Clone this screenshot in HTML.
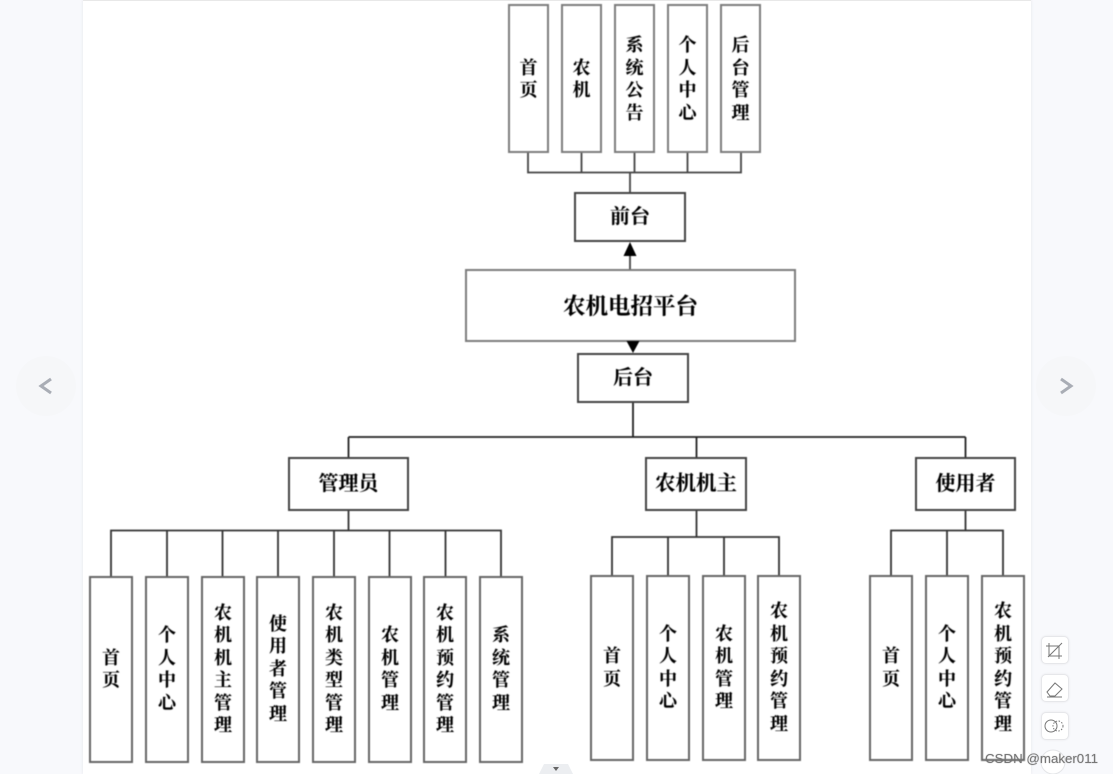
<!DOCTYPE html>
<html lang="zh">
<head>
<meta charset="utf-8">
<title>农机电招平台</title>
<style>
html,body{margin:0;padding:0;width:1113px;height:774px;overflow:hidden;background:#f8f9fc}
#sheet{position:absolute;left:83px;top:0;width:948px;height:774px;background:#fff;box-shadow:0 0 3px #e4e5ea}
#top{position:absolute;left:83px;top:0;width:948px;height:1px;background:#e8e8e8}
#d{position:absolute;left:0;top:0;width:1113px;height:774px;filter:blur(.4px)}
.b{position:absolute;box-sizing:border-box;border:2px solid #444;display:flex;align-items:center;justify-content:center;font-family:"Liberation Serif","Noto Serif CJK SC",serif;font-weight:700;color:#000;background:#fff;text-shadow:0 0 1px rgba(0,0,0,.35)}
.g{border-color:#7c7c7c}
.m{border-color:#666}
.v{font-size:18px;line-height:22.5px;padding-bottom:1px}
.t{padding-bottom:0;padding-top:1px}
.v span{display:block;width:18px;text-align:center;word-break:break-all}
.h{font-size:20px;white-space:nowrap;padding-bottom:6px}
.circ{position:absolute;width:60px;height:60px;border-radius:50%;background:#f6f7f9;top:356px}
.tool{position:absolute;left:1041px;width:28px;height:28px;box-sizing:border-box;border:1px solid #e6e7ea;border-radius:5px;background:#fff;box-shadow:0 0 2px #e8e8ec}
#wm{position:absolute;left:985px;top:751px;font:13.3px/16px "Liberation Sans",sans-serif;color:#777;white-space:nowrap;text-shadow:0 0 1px rgba(80,80,80,.5)}
svg{position:absolute;left:0;top:0}
</style>
</head>
<body>
<div id="sheet"></div>
<div id="top"></div>

<div class="circ" style="left:16px"></div>
<div class="circ" style="left:1036px"></div>
<svg width="1113" height="774" style="z-index:1">
<path d="M51 379l-10 7 10 7" fill="none" stroke="#a9adb5" stroke-width="3"/>
<path d="M1061 379l10 7-10 7" fill="none" stroke="#a9adb5" stroke-width="3"/>
</svg>

<div id="d">
<svg width="1113" height="774">
<g fill="none" stroke="#444" stroke-width="1.8">
<path d="M528 152V172.500H741V152M581.500 152V172.500M634.500 152V172.500M687.500 152V172.500M630 172.500V192"/>
<path d="M630 269V254"/>
<path d="M633 402V437M348.500 437H965.500M348.500 437V457M696.500 437V457M965.500 437V457" stroke="#222"/>
<path d="M348.500 510V530M111 576V530.500H501V576M167 530V576M222.500 530V576M278 530V576M334 530V576M389.500 530V576M445.500 530V576" stroke="#333"/>
<path d="M696.500 510V537M612 575V537H779V575M668 537V575M724 537V575" stroke="#333"/>
<path d="M965.500 510V530.500M891 575V530.500H1003V575M947 530V575" stroke="#333"/>
</g>
</svg>

<div class="b g v t" style="left:508px;top:4px;width:41px;height:149px"><span>首页</span></div>
<div class="b g v t" style="left:561px;top:4px;width:41px;height:149px"><span>农机</span></div>
<div class="b g v t" style="left:614px;top:4px;width:41px;height:149px"><span>系统公告</span></div>
<div class="b g v t" style="left:667px;top:4px;width:41px;height:149px"><span>个人中心</span></div>
<div class="b g v t" style="left:720px;top:4px;width:41px;height:149px"><span>后台管理</span></div>

<div class="b h" style="left:574px;top:192px;width:112px;height:50px">前台</div>
<div class="b g h" style="left:465px;top:269px;width:331px;height:73px;font-size:22.5px;padding-bottom:2px">农机电招平台</div>
<div class="b h" style="left:577px;top:353px;width:112px;height:50px">后台</div>

<div class="b h" style="left:288px;top:457px;width:121px;height:54px">管理员</div>
<div class="b h" style="left:645px;top:457px;width:102px;height:54px;font-size:20.5px">农机机主</div>
<div class="b h" style="left:915px;top:457px;width:101px;height:54px">使用者</div>

<div class="b m v" style="left:89px;top:576px;width:44px;height:187px"><span>首页</span></div>
<div class="b m v" style="left:145px;top:576px;width:44px;height:187px"><span>个人中心</span></div>
<div class="b m v" style="left:201px;top:576px;width:44px;height:187px"><span>农机机主管理</span></div>
<div class="b m v" style="left:256px;top:576px;width:44px;height:187px"><span>使用者管理</span></div>
<div class="b m v" style="left:312px;top:576px;width:44px;height:187px"><span>农机类型管理</span></div>
<div class="b m v" style="left:368px;top:576px;width:44px;height:187px"><span>农机管理</span></div>
<div class="b m v" style="left:423px;top:576px;width:44px;height:187px"><span>农机预约管理</span></div>
<div class="b m v" style="left:479px;top:576px;width:44px;height:187px"><span>系统管理</span></div>

<div class="b m v" style="left:590px;top:575px;width:44px;height:186px"><span>首页</span></div>
<div class="b m v" style="left:646px;top:575px;width:44px;height:186px"><span>个人中心</span></div>
<div class="b m v" style="left:702px;top:575px;width:44px;height:186px"><span>农机管理</span></div>
<div class="b m v" style="left:757px;top:575px;width:44px;height:186px"><span>农机预约管理</span></div>

<div class="b m v" style="left:869px;top:575px;width:44px;height:186px"><span>首页</span></div>
<div class="b m v" style="left:925px;top:575px;width:44px;height:186px"><span>个人中心</span></div>
<div class="b m v" style="left:981px;top:575px;width:44px;height:186px"><span>农机预约管理</span></div>

<svg width="1113" height="774">
<polygon points="630,242 623.500,256 636.500,256" fill="#000"/>
<polygon points="633,353 626.500,341 639.500,341" fill="#000"/>
</svg>
</div>

<div class="tool" style="top:636px"></div>
<div class="tool" style="top:674px"></div>
<div class="tool" style="top:712px"></div>
<svg width="1113" height="774" style="z-index:2">
<path d="M539 774l5-10h24l5 10z" fill="#eceef1"/>
<path d="M553 767h6l-3 4z" fill="#666"/>
<circle cx="1053" cy="762" r="12" fill="#fff" stroke="#e4e5e8"/>
<g fill="none" stroke="#777" stroke-width="1">
<path d="M1049 643v13h13M1046 646h13v13M1048 657l14-14"/>
<path d="M1047 692l8-9 7 6-7 7h-5zM1047 697h15"/>
<circle cx="1051" cy="726" r="6"/>
<circle cx="1058" cy="726" r="5" stroke-dasharray="1.500 1.500"/>
</g>
</svg>
<div id="wm" style="z-index:3">CSDN @maker011</div>
</body>
</html>
